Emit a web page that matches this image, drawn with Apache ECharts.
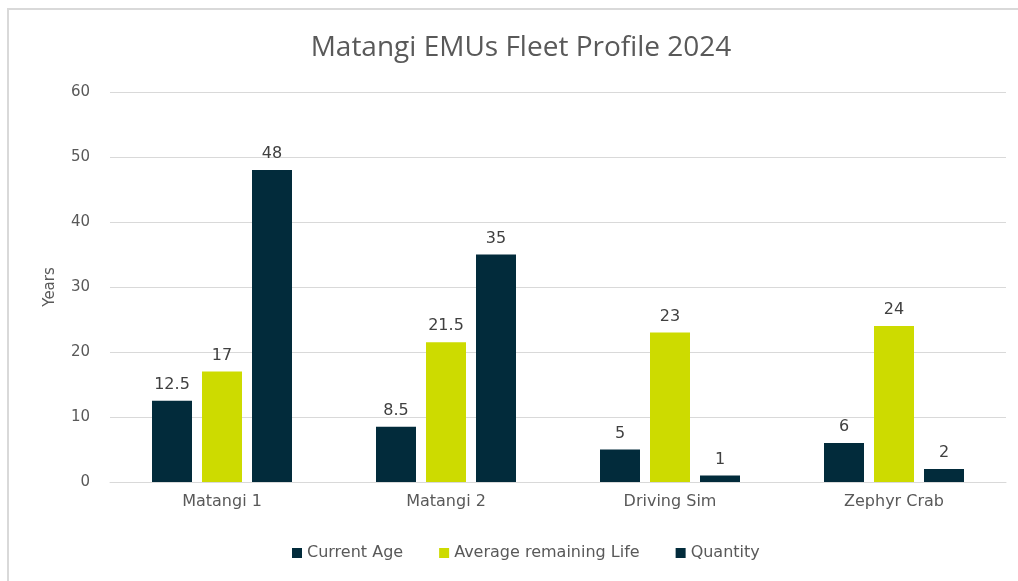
<!DOCTYPE html>
<html>
<head>
<meta charset="utf-8">
<script src="https://cdn.jsdelivr.net/npm/echarts@6/dist/echarts.min.js"></script>
<style>
  html, body { margin: 0; padding: 0; background: #fff; overflow: hidden; }
  #chart {
    position: absolute;
    left: 7px;
    top: 8px;
    width: 1100px;
    height: 620px;
    border-left: 2px solid #d9d9d9;
    border-top: 2px solid #d9d9d9;
  }
</style>
</head>
<body>
<div id="chart"></div>
<script>
const categories = ['Matangi 1', 'Matangi 2', 'Driving Sim', 'Zephyr Crab']
const currentAge = [12.5, 8.5, 5, 6]
const remainingLife = [17, 21.5, 23, 24]
const quantity = [48, 35, 1, 2]
const yTicks = [0, 10, 20, 30, 40, 50, 60]

const seriesData = [
  { name: 'Current Age', color: '#022b3b', data: currentAge },
  { name: 'Average remaining Life', color: '#cddb00', data: remainingLife },
  { name: 'Quantity', color: '#022b3b', data: quantity }
]

const textColor = '#595959'
const titleFont = '"Open Sans", "Noto Sans", sans-serif'
const font = '"DejaVu Sans", "Open Sans", sans-serif'

// plot area lives inside a wider div, so the right/bottom border stays off-screen
const chartInstance = echarts.init(document.getElementById('chart'))

const option = {
  backgroundColor: '#fff',
  animation: false,
  title: {
    text: 'Matangi EMUs Fleet Profile 2024',
    left: 507,
    top: 19,
    textAlign: 'center',
    textStyle: {
      color: textColor,
      fontFamily: titleFont,
      fontSize: 28,
      fontWeight: 'normal'
    }
  },
  legend: {
    top: 530,
    left: 278,
    itemWidth: 10,
    itemHeight: 10,
    itemGap: 36,
    icon: 'rect',
    textStyle: {
      color: textColor,
      fontFamily: font,
      fontSize: 16
    }
  },
  grid: {
    left: 101,
    right: 103,
    top: 82,
    bottom: 148
  },
  xAxis: {
    type: 'category',
    data: categories,
    axisLine: { lineStyle: { color: '#d9d9d9', width: 1 } },
    axisTick: { show: false },
    axisLabel: {
      color: textColor,
      fontFamily: font,
      fontSize: 16,
      margin: 12
    }
  },
  yAxis: {
    type: 'value',
    min: yTicks[0],
    max: yTicks[yTicks.length - 1],
    interval: 10,
    name: 'Years',
    nameLocation: 'middle',
    nameGap: 52,
    nameTextStyle: {
      color: textColor,
      fontFamily: font,
      fontSize: 15
    },
    axisLine: { show: false },
    axisTick: { show: false },
    splitLine: { lineStyle: { color: '#d9d9d9' } },
    axisLabel: {
      color: textColor,
      fontFamily: font,
      fontSize: 15,
      margin: 20
    }
  },
  series: seriesData.map((item) => ({
    name: item.name,
    type: 'bar',
    barWidth: 40,
    barGap: '25%',
    itemStyle: { color: item.color },
    label: {
      show: true,
      position: 'top',
      distance: 8,
      color: '#404040',
      fontFamily: font,
      fontSize: 16
    },
    data: item.data
  }))
}

chartInstance.setOption(option, true)
</script>
</body>
</html>
